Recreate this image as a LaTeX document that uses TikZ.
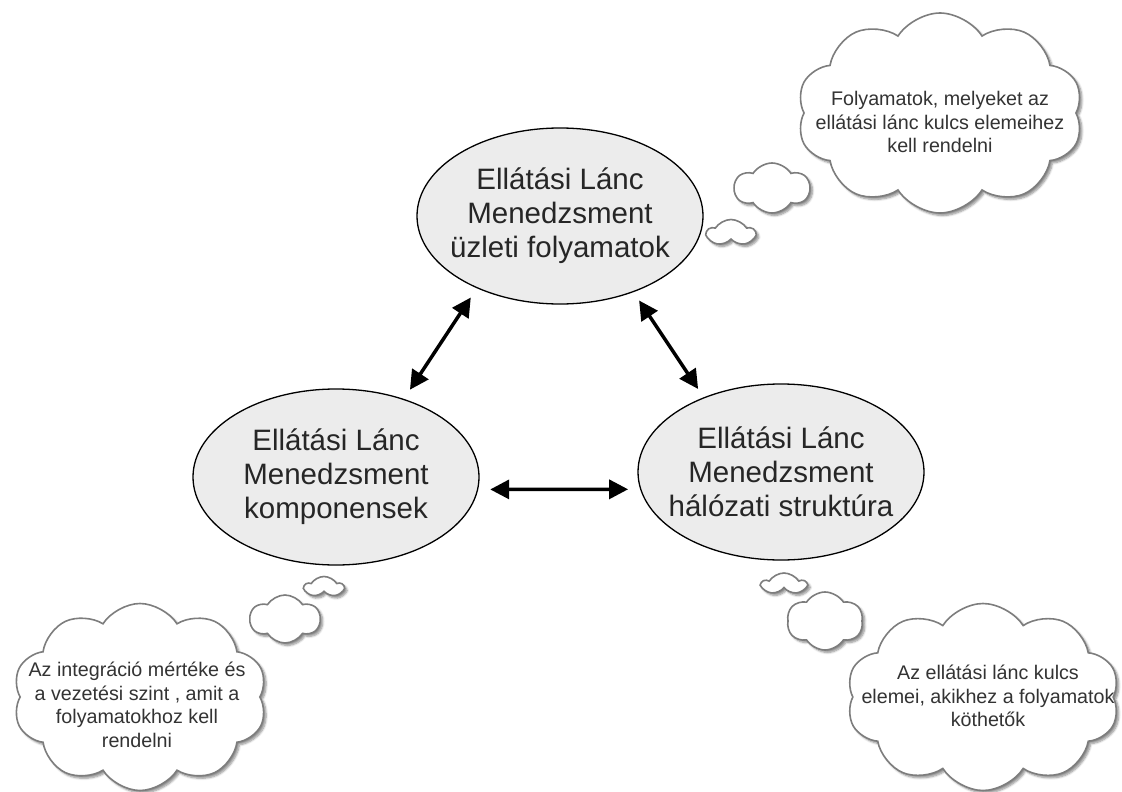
\documentclass[tikz,border=0pt]{standalone}
\usepackage{fontspec}
\setmainfont{Liberation Sans}
\usetikzlibrary{arrows.meta}
\usetikzlibrary{shapes.geometric}
\usetikzlibrary{shapes.symbols}
\usetikzlibrary{shadows.blur}
\definecolor{ellgray}{RGB}{236,236,236}
\definecolor{puffgray}{RGB}{125,125,125}

\begin{document}
\begin{tikzpicture}[x=1pt,y=-1pt,>={Triangle[length=19pt,width=19pt]},
        elem/.style={ellipse,draw,line width=1.3pt,fill=ellgray,inner xsep=-40pt,inner ysep=0pt,
            minimum width=286pt,minimum height=176pt,align=center,text=black!85,
            font=\fontsize{29.5}{34}\selectfont},
        thought/.style={cloud,cloud puffs=#1,cloud puff arc=115,cloud ignores aspect,
            draw=puffgray,line width=1.6pt,fill=white,inner sep=0pt,
            blur shadow={shadow xshift=2.5pt,shadow yshift=-2.5pt,
                shadow blur steps=6,shadow opacity=45}},
        note/.style={align=center,text=black!80,font=\fontsize{19.7}{23.5}\selectfont},
        link/.style={<->,line width=3.5pt}]
    \useasboundingbox (0,0) rectangle (1122,792);
    % the three parts
    \node[elem] (proc) at (560,216) {Ellátási Lánc\\Menedzsment\\üzleti folyamatok};
    \node[elem] (comp) at (336,477) {Ellátási Lánc\\Menedzsment\\komponensek};
    \node[elem] (net) at (781,472) {Ellátási Lánc\\Menedzsment\\hálózati struktúra};
    \draw[link,shorten <=11pt,shorten >=11pt] (proc.221) -- (comp.49);
    \draw[link,shorten <=10pt,shorten >=10pt] (proc.314) -- (net.136);
    \draw[link,shorten <=12pt,shorten >=12pt] (comp.355) -- (net.187);
    % thought bubbles
    \node[thought=5,minimum width=47pt,minimum height=27pt] (procs) at (731,233) {};
    \node[thought=6,minimum width=75pt,minimum height=50pt] (procm) at (772,188) {};
    \node[thought=10,minimum width=286pt,minimum height=200pt] (procc) at (940,113) {};
    \node[note] (proct) at (940,122) {Folyamatok, melyeket az\\ellátási lánc kulcs elemeihez\\kell rendelni};
    \node[thought=5,minimum width=38pt,minimum height=21pt] (comps) at (324,587) {};
    \node[thought=6,minimum width=70pt,minimum height=48pt] (compm) at (285,619) {};
    \node[thought=10,minimum width=254pt,minimum height=187pt] (compc) at (140,697) {};
    \node[note] (compt) at (137,705) {Az integráció mértéke és\\a vezetési szint , amit a\\folyamatokhoz kell\\rendelni};
    \node[thought=5,minimum width=43pt,minimum height=22pt] (nets) at (784,584) {};
    \node[thought=6,minimum width=76pt,minimum height=58pt] (netm) at (825,621) {};
    \node[thought=10,minimum width=273pt,minimum height=187pt] (netc) at (983,697) {};
    \node[note] (nett) at (988,696) {Az ellátási lánc kulcs\\elemei, akikhez a folyamatok\\köthetők};
\end{tikzpicture}
\end{document}
